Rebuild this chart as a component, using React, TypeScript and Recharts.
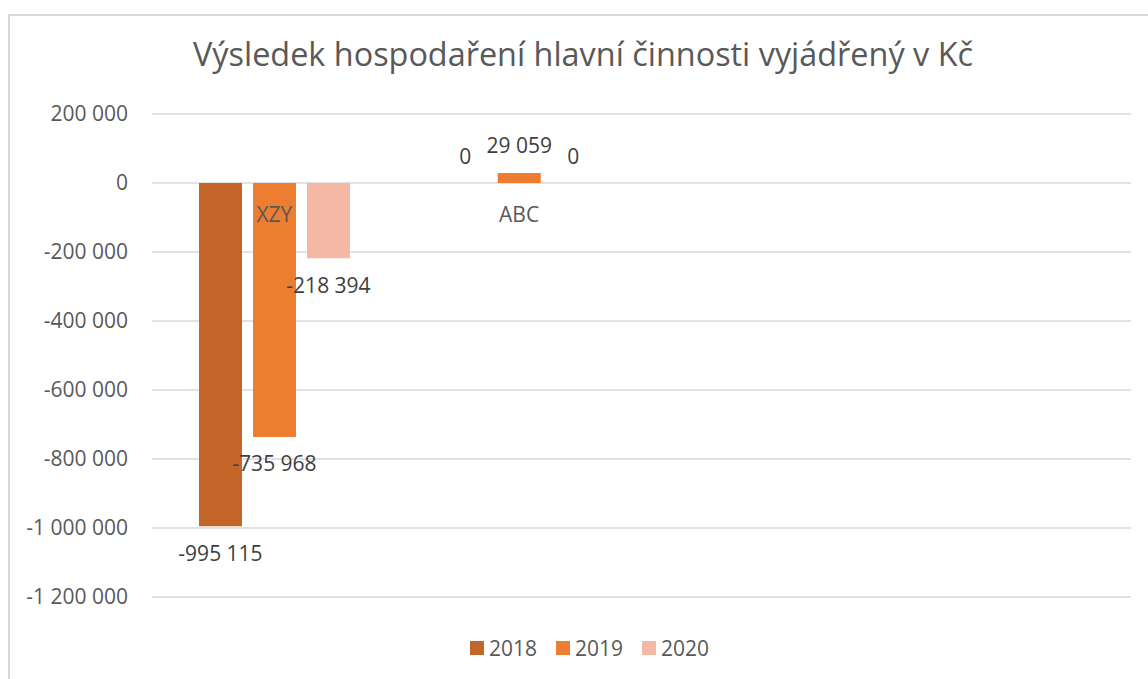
import React from 'react';
import { BarChart, Bar, XAxis, YAxis, CartesianGrid, LabelList, Legend, ReferenceDot } from 'recharts';

const categories = ['XZY', 'ABC', '', ''];
const series2018 = [-995115, 0, null, null];
const series2019 = [-735968, 29059, null, null];
const series2020 = [-218394, 0, null, null];
const seriesNames = ['2018', '2019', '2020'];
const seriesColors = ['#C4652A', '#ED7D31', '#F4B8A4'];
const yTicks = [-1200000, -1000000, -800000, -600000, -400000, -200000, 0, 200000];
const title = 'Výsledek hospodaření hlavní činnosti vyjádřený v Kč';

const FONT = "'Open Sans', sans-serif";

const data = categories.map((name, i) => ({
  idx: i,
  name,
  s2018: series2018[i],
  s2019: series2019[i],
  s2020: series2020[i],
}));
const keys = ['s2018', 's2019', 's2020'];

const fmt = (v: number) => {
  const s = String(Math.abs(Math.round(v))).replace(/\B(?=(\d{3})+(?!\d))/g, ' ');
  return (v < 0 ? '-' : '') + s;
};

const DataLabel = (props: any) => {
  const { x, y, width, height, value } = props;
  if (value === null || value === undefined) return null;
  const nx = Number(x), ny = Number(y), nw = Number(width), nh = Number(height) || 0;
  const top = Math.min(ny, ny + nh);
  const bottom = Math.max(ny, ny + nh);
  const cx = nx + nw / 2;
  const baseY = value < 0 ? bottom + 34.5 : value === 0 ? bottom - 19.5 : top - 19.5;
  return (
    <text x={cx} y={baseY} textAnchor="middle" fontSize={21} fill="#404040" fontFamily={FONT}>
      {fmt(value)}
    </text>
  );
};

const zeroMin = (value: any) => (value === 0 ? 0.01 : 0);

const LegendContent = () => (
  <div style={{ display: 'flex', alignItems: 'center', height: 24, fontFamily: FONT, fontSize: 21, color: '#595959' }}>
    {seriesNames.map((n, i) => (
      <div key={n} style={{ display: 'flex', alignItems: 'center', marginRight: 19 }}>
        <div style={{ width: 14, height: 14, background: seriesColors[i], marginRight: 5 }} />
        <span style={{ lineHeight: '24px' }}>{n}</span>
      </div>
    ))}
  </div>
);

export default function App() {
  return (
    <div style={{ position: 'fixed', left: 0, top: 0, width: 1148, height: 679, overflow: 'hidden', background: '#fff', fontFamily: FONT }}>
      <div style={{ position: 'absolute', left: 8, top: 14, width: 1300, height: 800, border: '2px solid #D9D9D9', boxSizing: 'border-box' }} />
      <div style={{ position: 'absolute', left: 0, top: 31, width: 1166, textAlign: 'center', fontSize: 32.4, color: '#595959', lineHeight: 'normal', whiteSpace: 'nowrap' }}>
        {title}
      </div>
      <div style={{ position: 'absolute', left: 8, top: 8 }}>
        <BarChart width={1132} height={660} data={data} margin={{ top: 106, right: 9, bottom: 71, left: 64 }} barGap={11} barSize={43}>
          <CartesianGrid vertical={false} stroke="#D9D9D9" strokeWidth={1.5} />
          <XAxis dataKey="idx" type="category" hide />
          <YAxis
            width={80}
            domain={[-1200000, 200000]}
            ticks={yTicks}
            interval={0}
            tickFormatter={fmt}
            axisLine={false}
            tickLine={false}
            tickSize={0}
            tickMargin={24}
            tick={{ fill: '#595959', fontSize: 21, fontFamily: FONT }}
          />
          {keys.map((k, i) => (
            <Bar key={k} dataKey={k} name={seriesNames[i]} fill={seriesColors[i]} minPointSize={zeroMin} isAnimationActive={false}>
              <LabelList dataKey={k} content={DataLabel} />
            </Bar>
          ))}
          {categories.map((c, i) =>
            c ? (
              <ReferenceDot
                key={'cat' + i}
                x={i}
                y={0}
                r={1}
                fill="none"
                stroke="none"
                ifOverflow="visible"
                label={{ value: c, position: 'bottom', offset: 23, fill: '#595959', fontSize: 21, fontFamily: FONT }}
              />
            ) : null
          )}
          <Legend
            layout="horizontal"
            verticalAlign="middle"
            align="center"
            content={LegendContent}
            wrapperStyle={{ top: 628, left: 462, width: 320, height: 24 }}
          />
        </BarChart>
      </div>
    </div>
  );
}
